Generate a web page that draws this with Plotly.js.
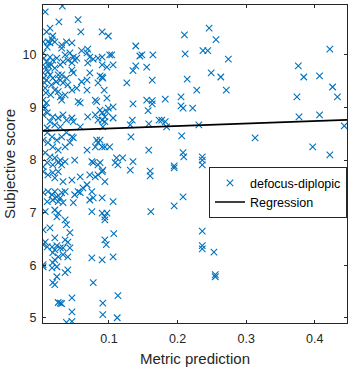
<!DOCTYPE html>
<html>
<head>
<meta charset="utf-8">
<script src="https://cdn.plot.ly/plotly-3.0.1.min.js"></script>
<style>html,body{margin:0;padding:0;background:#fff;}#chart{width:350px;height:370px;}</style>
</head>
<body>
<div id="chart"></div>
<script>
// Scatter data: metric prediction (x) and subjective score (y)
const metricX = [
0.246,0.210,0.256,0.148,0.164,0.211,0.237,0.244,0.274,0.155,
0.163,0.214,0.249,0.263,0.228,0.271,0.155,0.163,0.163,0.182,
0.205,0.157,0.205,0.208,0.222,0.158,0.173,0.177,0.182,0.184,
0.231,0.206,0.158,0.208,0.209,0.236,0.236,0.236,0.195,0.195,
0.160,0.160,0.208,0.195,0.161,0.236,0.236,0.236,0.253,0.255,
0.255,0.422,0.376,0.384,0.407,0.426,0.433,0.374,0.377,0.407,
0.443,0.313,0.397,0.422,
0.090,0.099,0.139,0.104,0.145,0.090,0.097,0.106,0.139,0.135,
0.090,0.091,0.126,0.093,0.097,0.135,0.087,0.099,0.106,0.097,
0.106,0.134,0.131,0.090,0.094,0.091,0.132,0.087,0.094,0.101,
0.111,0.120,0.109,0.113,0.135,0.131,0.091,0.094,0.090,0.106,
0.090,0.094,0.094,0.097,0.107,0.094,0.096,0.090,0.106,0.113,
0.091,0.091,0.112,
0.032,0.007,0.027,0.055,0.059,0.014,0.009,0.018,0.017,0.011,
0.004,0.021,0.014,0.010,0.031,0.038,0.046,0.031,0.069,0.068,
0.060,0.004,0.014,0.018,0.009,0.016,0.007,0.021,0.011,0.004,
0.014,0.018,0.009,0.006,0.016,0.007,0.021,0.026,0.024,0.005,
0.026,0.005,0.012,0.023,0.008,0.015,0.036,0.043,0.048,0.050,
0.040,0.033,0.029,0.046,0.053,0.072,0.077,0.084,0.090,0.069,
0.101,0.046,0.048,0.072,0.068,0.060,0.087,0.084,0.031,0.038,
0.029,0.033,0.040,0.046,0.053,0.068,0.029,0.036,0.031,0.004,
0.005,0.007,0.009,0.055,0.058,0.080,0.082,0.010,0.004,0.018,
0.026,0.033,0.038,0.046,0.048,0.069,0.080,0.084,0.090,0.094,
0.014,0.021,0.029,0.058,0.010,
0.010,0.017,0.024,0.031,0.038,0.046,0.004,0.011,0.018,0.026,
0.036,0.043,0.048,0.068,0.082,0.084,0.080,0.090,0.050,0.075,
0.087,0.007,0.014,0.021,0.029,0.010,0.018,0.031,0.004,
0.026,0.036,0.004,0.011,0.018,0.026,0.021,0.033,0.046,0.058,
0.072,0.080,0.084,0.090,0.077,0.084,0.068,0.062,0.055,0.058,
0.075,0.004,0.011,0.017,0.021,0.024,0.031,0.036,0.029,0.018,
0.026,0.033,0.010,0.050,0.048,0.072,0.077,0.007,0.021,0.026,
0.024,0.075,0.036,0.038,0.014,0.043,0.021,
0.007,0.004,0.010,0.017,0.024,0.021,0.029,0.036,0.040,0.033,
0.043,0.018,0.040,0.033,0.026,0.021,0.018,0.024,0.017,0.075,
0.004,0.040,0.036,0.024,0.021,0.018,0.077,0.026,0.029,0.031,
0.046,0.046,0.038,0.046,0.004,0.004
];
const scoreY = [
10.51,10.38,10.29,10.00,10.00,10.02,10.08,10.08,9.92,9.77,
9.52,9.54,9.66,9.58,9.33,9.33,9.14,9.13,9.07,9.16,
9.20,8.94,9.03,8.99,8.99,8.69,8.76,8.76,8.73,8.63,
8.67,8.46,8.19,8.14,8.06,8.06,8.00,7.91,7.89,7.85,
7.79,7.70,7.30,7.13,7.02,6.65,6.37,6.31,6.25,5.82,
5.78,10.11,9.79,9.58,9.60,9.39,9.20,9.20,8.82,8.86,
8.65,8.42,8.25,8.10,
10.44,10.36,10.17,10.00,9.98,9.81,9.77,9.81,9.79,9.70,
9.58,9.56,9.47,9.33,9.18,9.07,8.95,8.99,9.01,8.92,
8.80,8.76,8.67,8.76,8.73,8.63,8.44,8.38,8.25,8.25,
8.04,8.04,7.95,7.91,7.97,7.81,7.81,7.59,7.28,7.21,
6.99,6.92,6.86,6.99,6.60,6.48,6.39,6.10,6.16,5.42,
5.28,5.06,5.00,
10.93,10.82,10.63,10.67,10.44,10.51,10.44,10.36,10.29,10.25,
10.25,10.25,10.23,10.15,10.19,10.25,10.23,10.13,10.11,10.04,
10.08,10.04,9.96,9.90,9.87,9.81,9.77,9.75,9.68,9.66,
9.62,9.56,9.52,9.47,9.43,9.37,9.33,9.30,9.94,9.94,
9.62,9.56,9.79,9.49,9.28,9.24,10.00,10.04,9.96,9.90,
9.90,9.87,9.81,9.85,9.94,9.96,9.92,9.94,9.96,9.85,
10.00,9.71,9.66,9.66,9.52,9.49,9.60,9.47,9.62,9.56,
9.52,9.47,9.43,9.33,9.37,9.33,9.20,9.24,9.14,9.14,
9.01,8.99,9.09,9.11,9.09,9.14,9.11,8.90,8.86,8.82,
8.80,8.86,8.76,8.80,8.73,8.82,8.86,8.76,8.90,8.82,
8.73,8.67,8.63,8.63,8.61,
8.52,8.44,8.38,8.44,8.52,8.44,8.38,8.33,8.25,8.19,
8.25,8.33,8.42,8.19,8.38,8.33,8.25,8.25,8.00,7.97,
7.95,8.14,8.06,8.04,8.00,7.95,7.91,7.91,7.87,
7.95,7.97,7.78,7.72,7.76,7.78,7.66,7.59,7.62,7.68,
7.72,7.68,7.72,7.78,7.95,7.91,7.53,7.47,7.40,7.38,
7.40,7.38,7.40,7.34,7.40,7.30,7.38,7.40,7.28,7.24,
7.21,7.19,7.21,7.34,7.19,7.24,7.28,7.02,7.05,6.99,
6.92,7.02,6.86,6.77,6.71,6.62,6.52,
6.44,6.39,6.35,6.35,6.37,6.29,6.33,6.48,6.44,6.33,
6.33,6.24,6.16,6.20,6.16,6.10,6.05,5.97,5.95,6.14,
5.97,5.91,5.86,5.78,5.63,5.67,5.67,5.29,5.28,5.27,
5.38,5.11,4.91,4.93,6.67,6.01
];
const seriesName = "defocus-diplopic";
const fitName = "Regression";
const fitIntercept = 8.553;
const fitSlope = 0.472;
const xTickVals = [0.1, 0.2, 0.3, 0.4];
const yTickVals = [5, 6, 7, 8, 9, 10];
const xRange = [0.0038, 0.447];
const yRange = [4.9, 10.95];

const fitX = [xRange[0], xRange[1]];
const fitY = fitX.map(v => fitIntercept + fitSlope * v);

const axisColor = '#262626';
const fontFam = '"Liberation Sans", Arial, sans-serif';

const traces = [
  {
    type: 'scatter', mode: 'markers', name: seriesName,
    x: metricX, y: scoreY,
    marker: {symbol: 'x-thin-open', size: 6.5, color: '#0072BD', line: {color: '#0072BD', width: 1.1}},
    cliponaxis: true
  },
  {
    type: 'scatter', mode: 'lines', name: fitName,
    x: fitX, y: fitY,
    line: {color: '#000000', width: 1.6}
  }
];

const axisCommon = {
  showgrid: false, zeroline: false, showline: true, linecolor: axisColor, linewidth: 1,
  mirror: 'ticks', ticks: 'inside', ticklen: 3, tickwidth: 1, tickcolor: axisColor,
  tickfont: {family: fontFam, size: 12.5, color: axisColor}
};

const layout = {
  width: 350, height: 370,
  margin: {l: 43, r: 3, t: 5, b: 47},
  paper_bgcolor: '#ffffff', plot_bgcolor: '#ffffff',
  font: {family: fontFam, color: axisColor},
  showlegend: true,
  legend: {
    x: 1, xanchor: 'right', y: 0.49, yanchor: 'top',
    bgcolor: '#ffffff', bordercolor: axisColor, borderwidth: 1,
    font: {family: fontFam, size: 12.5, color: '#000000'},
    tracegroupgap: 0, itemwidth: 30
  },
  xaxis: Object.assign({}, axisCommon, {
    range: xRange, tickvals: xTickVals, ticktext: xTickVals.map(String),
    ticklabelstandoff: 4,
    title: {text: 'Metric prediction', font: {family: fontFam, size: 15, color: axisColor}, standoff: 8}
  }),
  yaxis: Object.assign({}, axisCommon, {
    range: yRange, tickvals: yTickVals, ticktext: yTickVals.map(String),
    ticklabelstandoff: 3,
    title: {text: 'Subjective score', font: {family: fontFam, size: 15, color: axisColor}, standoff: 3}
  })
};

Plotly.newPlot('chart', traces, layout, {displayModeBar: false, staticPlot: true});
</script>
</body>
</html>
